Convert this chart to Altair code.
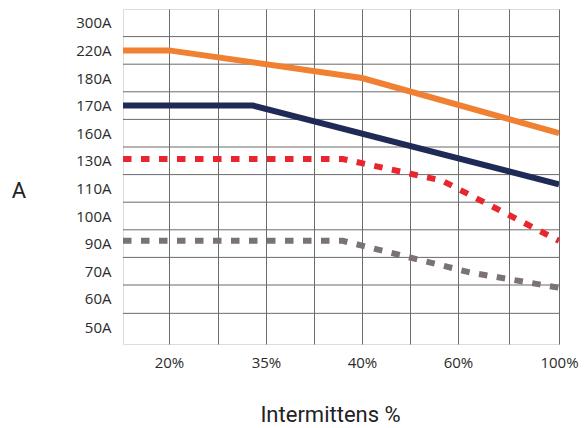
import altair as alt
import pandas as pd

# ---- data ----
x_labels = [20, 35, 40, 60, 100]          # Intermittens %
x_start = 10                                # left edge of plot
y_labels = [300, 220, 180, 170, 160, 130, 110, 100, 90, 70, 60, 50]  # A (top -> bottom)

orange_x = [10, 20, 40, 100]
orange_y = [220, 220, 180, 160]
navy_x = [10, 33, 100]
navy_y = [170, 170, 113]
red_x = [10, 39, 56.7, 100]
red_y = [132, 132, 115.6, 91]
gray_x = [10, 39, 65, 100]
gray_y = [91, 91, 69.5, 64]

# ---- layout / scales ----
W, H = 436, 335
x_range = [0, 46, 143, 239, 335, 436]
row_h = 27.6
centers = [13.8 + row_h * i for i in range(11)] + [318.9]   # top -> bottom
y_dom = [44] + sorted(y_labels) + [340]
y_rng = [H] + list(reversed(centers)) + [0]

x_grid = sorted(x_labels + [(a + b) / 2 for a, b in zip(x_labels[:-1], x_labels[1:])])
y_edges = [(a + b) / 2 for a, b in zip(y_labels[:-1], y_labels[1:])]

xs = alt.Scale(domain=[x_start] + x_labels, range=x_range, nice=False, zero=False)
ys = alt.Scale(domain=y_dom, range=y_rng, nice=False, zero=False)

label_test = " || ".join(f"datum.value == {v}" for v in x_labels)

x_axis = alt.Axis(values=x_grid, grid=True, gridColor="#6b6b6b", gridWidth=1,
                  ticks=False, domain=False, labelExpr=f"({label_test}) ? datum.value + '%' : ''",
                  labelFont="Open Sans", labelFontSize=15, labelColor="#2b2b2b",
                  labelPadding=11, labelFlush=False,
                  title="Intermittens %", titleFont="Roboto", titleFontSize=22,
                  titleFontWeight="normal", titleColor="#222222",
                  titleX=207, titleY=77, titleAlign="center", titleBaseline="alphabetic")
y_axis = alt.Axis(values=y_labels, grid=False, ticks=False, domain=False,
                  labelExpr="datum.value + 'A'",
                  labelFont="Open Sans", labelFontSize=15, labelColor="#2b2b2b",
                  labelPadding=12,
                  title="A", titleFont="Roboto", titleFontSize=22, titleFontWeight="normal",
                  titleColor="#222222", titleAngle=0, titleX=-104.5, titleY=181,
                  titleAlign="center", titleBaseline="middle")

grid_df = pd.DataFrame({"y": y_edges})
rules = alt.Chart(grid_df).mark_rule(color="#6b6b6b", strokeWidth=1).encode(
    y=alt.Y("y:Q", scale=ys, axis=y_axis)
)


def series(xv, yv, color, dash=None):
    df = pd.DataFrame({"x": xv, "y": yv})
    kw = dict(color=color, strokeWidth=6, strokeCap="butt", clip=True)
    if dash:
        kw["strokeDash"] = dash
    return alt.Chart(df).mark_line(**kw).encode(
        x=alt.X("x:Q", scale=xs, axis=x_axis),
        y=alt.Y("y:Q", scale=ys, axis=y_axis),
    )


chart = alt.layer(
    rules,
    series(gray_x, gray_y, "#7a7372", [8.5, 9.5]),
    series(red_x, red_y, "#e8262d", [8.5, 9.5]),
    series(navy_x, navy_y, "#1f2a57"),
    series(orange_x, orange_y, "#f08133"),
).properties(
    width=W, height=H,
    autosize=alt.AutoSizeParams(type="none"),
    padding={"left": 115, "top": 1, "right": 20, "bottom": 83},
).configure_view(stroke="#6b6b6b", strokeWidth=1).configure(background="white")

chart.save("out.html", embed_options={"renderer": "svg", "actions": False})
